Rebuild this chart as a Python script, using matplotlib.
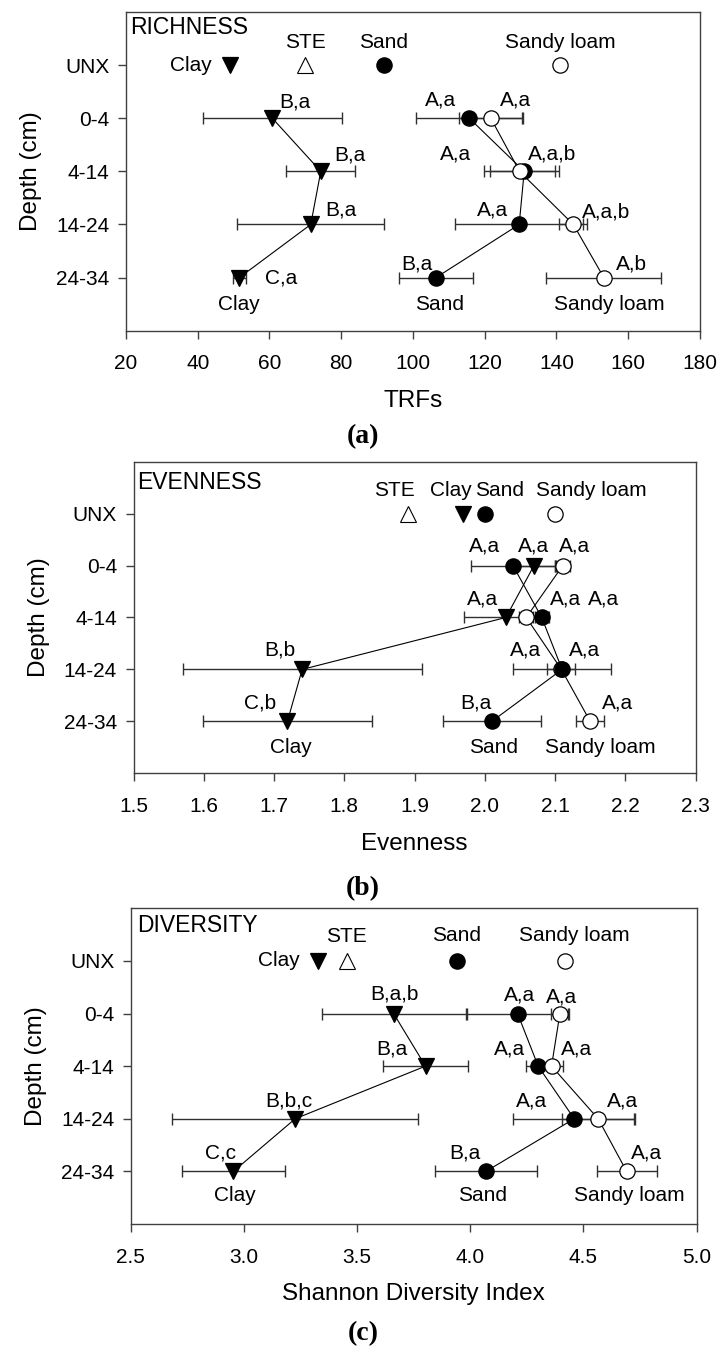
import matplotlib.pyplot as plt

plt.rcParams['font.family'] = ['Liberation Sans', 'DejaVu Sans']

depths = ["UNX", "0-4", "4-14", "14-24", "24-34"]

# (a) richness, TRFs
rich_clay = [49.0, 60.8, 74.3, 71.5, 51.6]
rich_clay_err = [0, 19.4, 9.6, 20.5, 1.8]
rich_sand = [91.9, 115.7, 131.0, 129.6, 106.4]
rich_sand_err = [0, 15.0, 9.6, 17.9, 10.2]
rich_loam = [141.0, 121.7, 129.7, 144.7, 153.2]
rich_loam_err = [0, 8.8, 10.0, 3.9, 16.0]
rich_ste = 70.0
rich_clay_sig = ["B,a", "B,a", "B,a", "C,a"]
rich_sand_sig = ["A,a", "A,a", "A,a", "B,a"]
rich_loam_sig = ["A,a", "A,a,b", "A,a,b", "A,b"]

# (b) evenness
even_clay = [1.969, 2.070, 2.030, 1.740, 1.719]
even_clay_err = [0, 0.03, 0.06, 0.17, 0.12]
even_sand = [2.000, 2.040, 2.081, 2.110, 2.010]
even_sand_err = [0, 0.06, 0.01, 0.07, 0.07]
even_loam = [2.100, 2.111, 2.059, 2.109, 2.150]
even_loam_err = [0, 0.01, 0.01, 0.02, 0.02]
even_ste = 1.890
even_clay_sig = ["A,a", "A,a", "B,b", "C,b"]
even_sand_sig = ["A,a", "A,a", "A,a", "B,a"]
even_loam_sig = ["A,a", "A,a", "A,a", "A,a"]

# (c) Shannon diversity
div_clay = [3.327, 3.661, 3.802, 3.226, 2.953]
div_clay_err = [0, 0.318, 0.188, 0.544, 0.227]
div_sand = [3.940, 4.209, 4.300, 4.459, 4.069]
div_sand_err = [0, 0.224, 0.055, 0.27, 0.225]
div_loam = [4.418, 4.396, 4.359, 4.565, 4.691]
div_loam_err = [0, 0.04, 0.05, 0.16, 0.133]
div_ste = 3.453
div_clay_sig = ["B,a,b", "B,a", "B,b,c", "C,c"]
div_sand_sig = ["A,a", "A,a", "A,a", "B,a"]
div_loam_sig = ["A,a", "A,a", "A,a", "A,a"]

FS = 15

# label offsets in pixels (dx right, dy down) -- hand placed like the original
panels = [
    dict(pos=[0.1757, 0.7552, 0.8006, 0.2359], xlim=(20, 180), xticks=[20, 40, 60, 80, 100, 120, 140, 160, 180],
         fmt="{:.0f}", xlabel="TRFs", title="RICHNESS", tag="(a)", tagy=0.6768, tx=0.008, ty=0.95,
         ste=rich_ste, ste_off=(0, -23),
         series=[
             ("Clay", rich_clay, rich_clay_err, rich_clay_sig, "v", "black",
              [(23, -16), (29, -16), (30, -14), (42, 0)], "left", (0, 27)),
             ("Sand", rich_sand, rich_sand_err, rich_sand_sig, "o", "black",
              [(-29, -18), (-69, -17), (-27, -14), (-19, -14)], (0, -23), (4, 27)),
             ("Sandy loam", rich_loam, rich_loam_err, rich_loam_sig, "o", "white",
              [(25, -18), (33, -17), (33, -12), (28, -14)], (0, -23), (5, 27)),
         ]),
    dict(pos=[0.1863, 0.4276, 0.7838, 0.2307], xlim=(1.5, 2.3), xticks=[1.5, 1.6, 1.7, 1.8, 1.9, 2.0, 2.1, 2.2, 2.3],
         fmt="{:.1f}", xlabel="Evenness", title="EVENNESS", tag="(b)", tagy=0.3425, tx=0.0066, ty=0.933,
         ste=even_ste, ste_off=(-13, -23),
         series=[
             ("Clay", even_clay, even_clay_err, even_clay_sig, "v", "black",
              [(0, -20), (-23, -18), (-22, -19), (-27, -18)], (-12, -23), (3, 26)),
             ("Sandy loam", even_loam, even_loam_err, even_loam_sig, "o", "white",
              [(12, -20), (39, -18), (23, -19), (27, -18)], (36, -23), (10, 26)),
             ("Sand", even_sand, even_sand_err, even_sand_sig, "o", "black",
              [(-28, -20), (62, -18), (-37, -19), (-16, -18)], (15, -23), (2, 26)),
         ]),
    dict(pos=[0.1826, 0.0940, 0.7889, 0.2337], xlim=(2.5, 5.0), xticks=[2.5, 3.0, 3.5, 4.0, 4.5, 5.0],
         fmt="{:.1f}", xlabel="Shannon Diversity Index", title="DIVERSITY", tag="(c)", tagy=0.0126, tx=0.011, ty=0.947,
         ste=div_ste, ste_off=(0, -24),
         series=[
             ("Clay", div_clay, div_clay_err, div_clay_sig, "v", "black",
              [(1, -20), (-34, -17), (-6, -18), (-13, -18)], "left", (1, 24)),
             ("Sand", div_sand, div_sand_err, div_sand_sig, "o", "black",
              [(2, -19), (-29, -17), (-43, -18), (-21, -18)], (0, -25), (-3, 24)),
             ("Sandy loam", div_loam, div_loam_err, div_loam_sig, "o", "white",
              [(2, -17), (25, -17), (24, -18), (20, -18)], (9, -25), (3, 24)),
         ]),
]

fig = plt.figure(figsize=(7.17, 13.51), dpi=100)
ypos = list(range(len(depths)))

for p in panels:
    ax = fig.add_axes(p["pos"])
    for name, vals, errs, sig, mk, fc, offs, unx_off, bot_off in p["series"]:
        ax.errorbar(vals[1:], ypos[1:], xerr=errs[1:], fmt="none", ecolor="#303030",
                    elinewidth=1.0, capsize=4, capthick=1.0, zorder=1)
        ax.plot(vals[1:], ypos[1:], "-", color="black", lw=0.8, zorder=2)
        ms = 12 if mk == "v" else 11
        ax.plot(vals, ypos, linestyle="none", marker=mk, ms=ms, mfc=fc, mec="black",
                mew=0.9, zorder=3)
        for v, y, s, (dx, dy) in zip(vals[1:], ypos[1:], sig, offs):
            ax.annotate(s, (v, y), xytext=(dx, -dy), textcoords="offset pixels",
                        ha="center", va="center", fontsize=FS)
        # series name next to the UNX marker
        if unx_off == "left":
            ax.annotate(name, (vals[0], ypos[0]), xytext=(-18, 0), textcoords="offset pixels",
                        ha="right", va="center", fontsize=FS)
        else:
            ax.annotate(name, (vals[0], ypos[0]), xytext=(unx_off[0], -unx_off[1]),
                        textcoords="offset pixels", ha="center", va="center", fontsize=FS)
        # series name under the deepest point
        ax.annotate(name, (vals[-1], ypos[-1]), xytext=(bot_off[0], -bot_off[1]),
                    textcoords="offset pixels", ha="center", va="center", fontsize=FS)
    # STE reference point
    ax.plot([p["ste"]], [ypos[0]], linestyle="none", marker="^", ms=12, mfc="white",
            mec="black", mew=0.8, zorder=3)
    ax.annotate("STE", (p["ste"], ypos[0]), xytext=(p["ste_off"][0], -p["ste_off"][1]),
                textcoords="offset pixels", ha="center", va="center", fontsize=FS)

    ax.set_xlim(*p["xlim"])
    ax.set_ylim(5, -1)
    ax.set_xticks(p["xticks"])
    ax.set_xticklabels([p["fmt"].format(t) for t in p["xticks"]])
    ax.set_yticks(ypos)
    ax.set_yticklabels(depths)
    ax.tick_params(axis="both", direction="out", length=6, width=1, labelsize=FS,
                   color="#404040", pad=6, top=False, right=False)
    ax.tick_params(axis="x", pad=11)
    for sp in ax.spines.values():
        sp.set_color("#404040")
        sp.set_linewidth(1.0)
    ax.set_xlabel(p["xlabel"], fontsize=17.5, labelpad=12)
    ax.set_ylabel("Depth (cm)", fontsize=17.5, labelpad=10)
    ax.text(p["tx"], p["ty"], p["title"], transform=ax.transAxes, ha="left", va="center",
            fontsize=16.5)
    fig.text(0.506, p["tagy"], p["tag"], ha="center", va="center", fontsize=20,
             fontweight="bold", family=["Liberation Serif", "DejaVu Serif"])

fig.savefig("out.png", dpi=100)
